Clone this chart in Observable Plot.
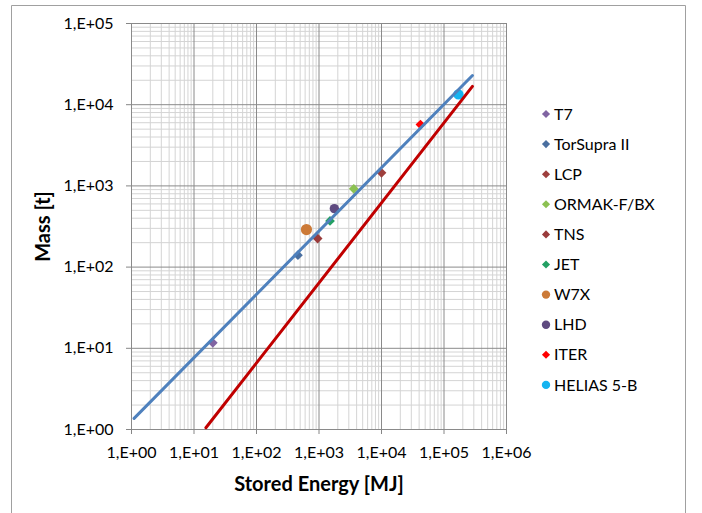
<!DOCTYPE html>
<html>
<head>
<meta charset="utf-8">
<script src="https://cdn.jsdelivr.net/npm/d3@7"></script>
<script src="https://cdn.jsdelivr.net/npm/@observablehq/plot@0.6"></script>
<style>
  html, body { margin: 0; padding: 0; background: #fff; }
  #chart { position: relative; width: 702px; height: 513px; }
  g[aria-label="x-axis label"] text, g[aria-label="y-axis label"] text { font-weight: bold; font-size: 20px; }
</style>
</head>
<body>
<div id="chart"></div>
<script>
const names = ["T7", "TorSupra II", "LCP", "ORMAK-F/BX", "TNS", "JET", "W7X", "LHD", "ITER", "HELIAS 5-B"];
const energy = [20, 460, 10000, 3600, 950, 1500, 630, 1760, 42000, 170000];
const mass = [11.7, 140, 1450, 920, 225, 370, 290, 525, 5700, 13400];
const colors = ["#8064A2", "#4A6FA0", "#9E3F3D", "#8CC152", "#9A3B3B", "#23A063", "#CC7A37", "#5F4B80", "#FF0000", "#16B4F0"];
const shapes = ["diamond2", "diamond2", "diamond2", "diamond2", "diamond2", "diamond2", "circle", "circle", "diamond2", "circle"];
const sizes = [4.4, 4.4, 4.4, 4.4, 4.4, 4.4, 5.6, 4.7, 4.4, 5.2];

const fitX = [1.1, 285000];
const fitY = [1.37, 22900];
const limitX = [15.5, 285000];
const limitY = [1.05, 16800];

const xMajor = [1, 10, 100, 1e3, 1e4, 1e5, 1e6];
const yMajor = [1, 10, 100, 1e3, 1e4, 1e5];
const xTickLabels = ["1,E+00", "1,E+01", "1,E+02", "1,E+03", "1,E+04", "1,E+05", "1,E+06"];
const yTickLabels = ["1,E+00", "1,E+01", "1,E+02", "1,E+03", "1,E+04", "1,E+05"];

const minorOf = (major) => major.slice(0, -1).flatMap(m => [2,3,4,5,6,7,8,9].map(k => k * m));
const xMinor = minorOf(xMajor);
const yMinor = minorOf(yMajor);

const points = names.map((n, i) => ({name: n, e: energy[i], m: mass[i], color: colors[i], shape: shapes[i], r: sizes[i]}));
const fit = fitX.map((x, i) => ({x, y: fitY[i]}));
const limit = limitX.map((x, i) => ({x, y: limitY[i]}));

const plot = Plot.plot({
  width: 702,
  height: 513,
  marginLeft: 131,
  marginTop: 23,
  marginRight: 196,
  marginBottom: 84,
  style: {fontFamily: "Lato, 'Open Sans', sans-serif", fontSize: "16px", color: "#000", background: "transparent"},
  x: {type: "log", domain: [1, 1e6]},
  y: {type: "log", domain: [1, 1e5]},
  r: {type: "identity"},
  symbol: {type: "identity"},
  marks: [
    Plot.gridX(xMinor, {stroke: "#d4d4d4", strokeOpacity: 1, strokeWidth: 1}),
    Plot.gridY(yMinor, {stroke: "#d4d4d4", strokeOpacity: 1, strokeWidth: 1}),
    Plot.gridX(xMajor, {stroke: "#8a8a8a", strokeOpacity: 1, strokeWidth: 1}),
    Plot.gridY(yMajor, {stroke: "#8a8a8a", strokeOpacity: 1, strokeWidth: 1}),
    Plot.axisX(xMajor, {
      tickFormat: (d) => xTickLabels[xMajor.indexOf(d)],
      tickSize: 5, tickPadding: 12, stroke: "#868686",
      label: "Stored Energy [MJ]", labelAnchor: "center", labelOffset: 61, labelArrow: "none"
    }),
    Plot.axisY(yMajor, {
      tickFormat: (d) => yTickLabels[yMajor.indexOf(d)],
      tickSize: 5, tickPadding: 13, stroke: "#868686",
      label: "Mass [t]", labelAnchor: "center", labelOffset: 96, labelArrow: "none"
    }),
    Plot.dot(points, {x: "e", y: "m", fill: "color", symbol: "shape", r: "r", stroke: null}),
    Plot.line(fit, {x: "x", y: "y", stroke: "#4F81BD", strokeWidth: 3}),
    Plot.line(limit, {x: "x", y: "y", stroke: "#C00000", strokeWidth: 3})
  ]
});

const container = document.getElementById("chart");
container.appendChild(plot);
const svg = d3.select(plot);
svg.style("position", "absolute").style("left", "0").style("top", "0");

// outer chart frame
svg.insert("path", ":first-child")
  .attr("d", "M11.5,513 V5.5 H685.5 V513")
  .attr("fill", "none").attr("stroke", "#a0a0a0").attr("stroke-width", 1);

// legend
const legend = svg.append("g")
  .attr("font-family", "Lato, 'Open Sans', sans-serif")
  .attr("font-size", 16)
  .attr("text-anchor", "start");
names.forEach((n, i) => {
  const y = 114 + i * 30.1;
  const sym = shapes[i] === "circle" ? d3.symbolCircle : d3.symbolDiamond2;
  const area = shapes[i] === "circle" ? 55 : 42;
  legend.append("path")
    .attr("transform", `translate(546,${y})`)
    .attr("d", d3.symbol(sym, area)())
    .attr("fill", colors[i]);
  legend.append("text")
    .attr("x", 554).attr("y", y).attr("dy", "0.35em")
    .attr("text-anchor", "start")
    .attr("fill", "#000")
    .text(n);
});
</script>
</body>
</html>
